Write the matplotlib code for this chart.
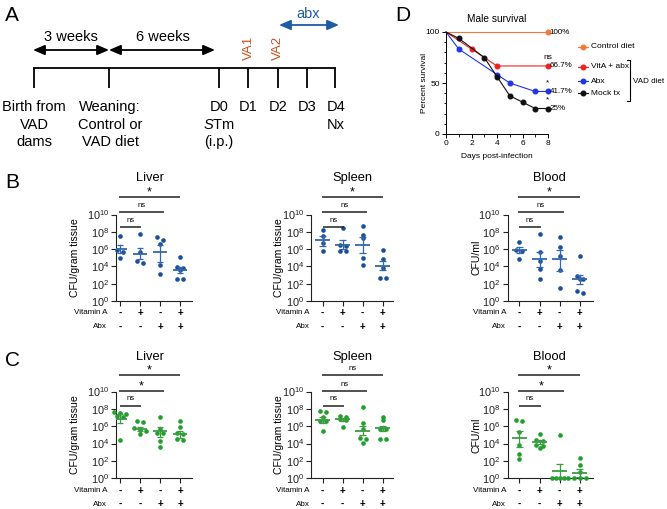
import numpy as np
import matplotlib
matplotlib.use("Agg")
import matplotlib.pyplot as plt
from matplotlib.transforms import blended_transform_factory
from matplotlib.patches import FancyArrowPatch
from matplotlib.ticker import NullLocator

plt.rcParams['font.family'] = ['Liberation Sans', 'DejaVu Sans']
plt.rcParams['mathtext.fontset'] = 'custom'
plt.rcParams['mathtext.rm'] = 'Liberation Sans'
plt.rcParams['mathtext.it'] = 'Liberation Sans:italic'
plt.rcParams['mathtext.bf'] = 'Liberation Sans:bold'
plt.rcParams['mathtext.sf'] = 'Liberation Sans'

# ---------------- data ----------------
# Panel D: survival (%)
control_days = [0, 8]
control_surv = [100, 100]
vita_days = [0, 2, 4, 8]
vita_surv = [100, 83.3, 66.7, 66.7]
abx_days = [0, 1, 4, 5, 7, 8]
abx_surv = [100, 83.3, 58.3, 50.0, 41.7, 41.7]
mock_days = [0, 1, 3, 4, 5, 6, 7, 8]
mock_surv = [100, 93.75, 75.0, 56.25, 37.5, 31.25, 25.0, 25.0]
surv_labels = ["100%", "66.7%", "41.7%", "25%"]
surv_sig = ["", "ns", "*", "*"]
legend_labels = ["Control diet", "VitA + abx", "Abx", "Mock tx"]

# Panels B / C: log10 CFU per mouse, groups: (-,-), (+,-), (-,+), (+,+)
vitamin_a_row = ["-", "+", "-", "+"]
abx_row = ["-", "-", "+", "+"]

b_liver = [[7.55, 5.9, 5.65, 4.95], [7.8, 5.7, 4.6, 4.45],
           [7.35, 7.1, 6.6, 4.15, 3.1], [5.1, 3.9, 3.8, 3.55, 2.6, 2.6]]
b_liver_mean = [6.0, 5.45, 5.7, 3.55]
b_liver_err = [(5.5, 6.5), (4.8, 6.1), (4.5, 6.45), (3.2, 3.92)]

b_spleen = [[8.2, 7.5, 6.65, 5.8], [8.45, 6.45, 6.4, 5.8, 5.75],
            [8.65, 7.65, 7.3, 4.95, 4.15], [5.95, 4.9, 3.85, 2.7, 2.7]]
b_spleen_mean = [7.0, 6.5, 6.45, 4.1]
b_spleen_err = [(6.35, 7.55), (6.0, 7.0), (5.6, 7.35), (3.6, 4.6)]

b_blood = [[6.8, 5.9, 5.8, 4.8], [7.7, 5.7, 4.65, 3.75, 2.55],
           [7.4, 6.25, 5.2, 3.6, 1.55], [5.15, 2.85, 2.6, 2.55, 1.2, 0.9]]
b_blood_mean = [5.9, 4.8, 4.8, 2.55]
b_blood_err = [(5.5, 6.25), (3.95, 5.7), (3.45, 5.85), (2.0, 3.0)]

c_liver = [[7.6, 7.55, 7.45, 7.15, 7.1, 4.4], [6.55, 6.45, 5.75, 5.55, 5.5, 5.1],
           [7.1, 5.65, 5.25, 5.2, 4.25, 3.65], [6.65, 5.95, 5.2, 5.15, 4.5, 4.45]]
c_liver_mean = [6.85, 5.7, 5.4, 5.1]
c_liver_err = [(6.35, 7.4), (5.42, 5.96), (4.75, 5.95), (4.6, 5.5)]

c_spleen = [[7.75, 7.6, 7.1, 6.65, 6.55, 5.4], [7.2, 7.1, 6.8, 6.7, 5.95],
            [8.25, 6.35, 5.65, 4.6, 4.55, 4.05], [7.1, 6.75, 5.7, 5.65, 4.55, 4.55]]
c_spleen_mean = [6.75, 6.8, 5.5, 5.75]
c_spleen_err = [(6.35, 7.1), (6.65, 6.95), (5.0, 6.05), (5.4, 6.05)]

c_blood = [[6.75, 6.6, 5.35, 3.8, 2.8, 2.2], [5.1, 4.4, 4.35, 3.85, 3.75, 3.45],
           [4.95, 0, 0, 0, 0, 0], [2.3, 1.5, 0.7, 0, 0, 0]]
c_blood_mean = [4.6, 4.2, 0.85, 0.65]
c_blood_err = [(3.65, 5.45), (3.95, 4.4), (0.0, 1.65), (0.2, 1.05)]

b_sig = {"Liver": ["*", "ns", "ns"], "Spleen": ["*", "ns", "ns"], "Blood": ["*", "ns", "ns"]}
c_sig = {"Liver": ["*", "*", "ns"], "Spleen": ["ns", "ns", "ns"], "Blood": ["*", "*", "ns"]}

# ---------------- figure ----------------
W, H = 667, 509
fig = plt.figure(figsize=(W / 100, H / 100), dpi=100)


def px_axes(l, t, r, b):
    return fig.add_axes([l / W, 1 - b / H, (r - l) / W, (b - t) / H])


ov = fig.add_axes([0, 0, 1, 1])
ov.set_xlim(0, W)
ov.set_ylim(H, 0)
ov.axis('off')
ov.patch.set_alpha(0)
ov.set_zorder(10)

# ---------------- Panel A ----------------
ov.text(12, 15, "A", fontsize=15, ha='center', va='center')
ov.plot([33, 336], [68, 68], color='k', lw=1.3, solid_capstyle='butt')
for x in [33.6, 109, 219, 248, 278, 307, 335.4]:
    ov.plot([x, x], [68, 88], color='k', lw=1.3, solid_capstyle='butt')

for (x0, x1, y, col) in [(33, 109, 50, 'k'), (109, 215, 50, 'k'), (279, 339, 25, '#1f5aa6')]:
    ov.add_patch(FancyArrowPatch((x0, y), (x1, y), arrowstyle='<|-|>,head_length=0.7,head_width=0.3',
                                 mutation_scale=10, lw=1.3, color=col, shrinkA=0, shrinkB=0,
                                 transform=ov.transData))
ov.text(71, 37, "3 weeks", fontsize=10.5, ha='center', va='center')
ov.text(163, 37, "6 weeks", fontsize=10.5, ha='center', va='center')
ov.text(308, 14, "abx", fontsize=10.5, ha='center', va='center', color='#1f5aa6')
ov.text(249, 47.5, "VA1", fontsize=9.5, ha='center', va='center', rotation=90, color='#c8501e')
ov.text(278, 47.5, "VA2", fontsize=9.5, ha='center', va='center', rotation=90, color='#c8501e')

tl_fs = 10.5
for x, lines in [(34, ["Birth from", "VAD", "dams"]), (110, ["Weaning:", "Control or", "VAD diet"]),
                 (219, ["D0", r"$\mathit{S}$Tm", "(i.p.)"]), (248, ["D1"]), (278, ["D2"]),
                 (307, ["D3"]), (336, ["D4", "Nx"])]:
    for i, s in enumerate(lines):
        ov.text(x, 107 + i * 17.5, s, fontsize=tl_fs, ha='center', va='center')

# ---------------- Panel D ----------------
ov.text(403, 15, "D", fontsize=15, ha='center', va='center')
axD = px_axes(446, 32, 548, 134)
axD.set_xlim(0, 8)
axD.set_ylim(0, 100)
for s in ['top', 'right']:
    axD.spines[s].set_visible(False)
for s in ['left', 'bottom']:
    axD.spines[s].set_linewidth(0.7)
axD.set_xticks([0, 2, 4, 6, 8])
axD.set_xticks([1, 3, 5, 7], minor=True)
axD.set_yticks([0, 50, 100])
axD.set_yticks(np.arange(0, 101, 10), minor=True)
axD.tick_params(labelsize=6, length=3, width=0.7, pad=1.5)
axD.tick_params(which='minor', length=1.8, width=0.6)

d_colors = ['#f47a3b', '#ee2222', '#2233ee', '#111111']
series = [(control_days, control_surv), (vita_days, vita_surv), (abx_days, abx_surv), (mock_days, mock_surv)]
for (dd, ss), col in zip(series, d_colors):
    axD.plot(dd, ss, color=col, lw=0.8, marker='o', ms=3.3, markevery=slice(1, None), clip_on=False)
for (dd, ss), lab, sig in zip(series, surv_labels, surv_sig):
    axD.annotate(lab, (dd[-1], ss[-1]), xytext=(1.2, 0), textcoords='offset points',
                 fontsize=5.8, va='center', ha='left')
    if sig:
        axD.annotate(sig, (dd[-1], ss[-1]), xytext=(0, 3.5), textcoords='offset points',
                     fontsize=6, va='bottom', ha='center')
ov.text(497, 19, "Male survival", fontsize=7.3, ha='center', va='center')
ov.text(424, 83, "Percent survival", fontsize=6, ha='center', va='center', rotation=90)
ov.text(497, 156, "Days post-infection", fontsize=6, ha='center', va='center')
for lab, col, y in zip(legend_labels, d_colors, [46.7, 66.7, 81, 93.3]):
    ov.plot([578, 588], [y, y], color=col, lw=0.8)
    ov.plot([583], [y], 'o', color=col, ms=3.3)
    ov.text(591, y, lab, fontsize=6, ha='left', va='center')
ov.plot([627, 630, 630, 627], [60, 60, 101, 101], color='k', lw=0.8)
ov.text(633, 81.7, "VAD diet", fontsize=5.8, ha='left', va='center')

# ---------------- Panels B / C ----------------
ov.text(12, 183, "B", fontsize=15, ha='center', va='center')
ov.text(12, 360, "C", fontsize=15, ha='center', va='center')

cols = {"Liver": dict(spine=116, cat0=120, step=20, right=192, ylab="CFU/gram tissue", ylx=75),
        "Spleen": dict(spine=311, cat0=322.7, step=20, right=393, ylab="CFU/gram tissue", ylx=278.5),
        "Blood": dict(spine=507.5, cat0=519.3, step=20.2, right=593, ylab="CFU/ml", ylx=476.5)}
rows = [dict(top=214.5, bottom=301, sig_y=[197, 212, 227], title_y=178, table_y=[313, 327],
             data={"Liver": (b_liver, b_liver_mean, b_liver_err), "Spleen": (b_spleen, b_spleen_mean, b_spleen_err),
                   "Blood": (b_blood, b_blood_mean, b_blood_err)}, sig=b_sig,
             dot='#1b4f9a', bar='#3467ad'),
        dict(top=391.5, bottom=478.3, sig_y=[374.5, 390.5, 405.5], title_y=357, table_y=[491, 504],
             data={"Liver": (c_liver, c_liver_mean, c_liver_err), "Spleen": (c_spleen, c_spleen_mean, c_spleen_err),
                   "Blood": (c_blood, c_blood_mean, c_blood_err)}, sig=c_sig,
             dot='#20a02a', bar='#3f9a47')]
sig_spans = [(-0.05, 3.0), (-0.05, 2.2), (0.0, 1.05)]


def spread(vals, thresh=0.3, step=0.3, maxspan=0.8):
    vals = np.asarray(vals, float)
    order = np.argsort(-vals, kind='stable')
    off = np.zeros(len(vals))
    groups = []
    for i in order:
        if groups and abs(vals[groups[-1][0]] - vals[i]) < thresh:
            groups[-1].append(i)
        else:
            groups.append([i])
    for g in groups:
        n = len(g)
        if n > 1:
            s = min(step, maxspan / (n - 1))
            for k, i in enumerate(g):
                off[i] = (k - (n - 1) / 2) * s
    return off


for row in rows:
    for name, geo in cols.items():
        xmin = -(geo['cat0'] - geo['spine']) / geo['step']
        xmax = (geo['right'] - geo['cat0']) / geo['step']
        ax = px_axes(geo['spine'], row['top'], geo['right'], row['bottom'])
        ax.set_yscale('log')
        ax.set_ylim(1, 1e10)
        ax.set_xlim(xmin, xmax)
        for s in ['top', 'right']:
            ax.spines[s].set_visible(False)
        for s in ['left', 'bottom']:
            ax.spines[s].set_linewidth(0.8)
            ax.spines[s].set_color('#222222')
        ax.set_yticks([10.0 ** k for k in range(0, 11, 2)])
        ax.set_yticklabels([rf'$10^{{{k}}}$' for k in range(0, 11, 2)])
        ax.yaxis.set_minor_locator(NullLocator())
        ax.set_xticks(range(4))
        ax.set_xticklabels([])
        ax.tick_params(labelsize=7.9, length=3.5, width=0.8, pad=1.5, colors='#222222')

        vals, means, errs = row['data'][name]
        for c, (v, m, (lo, hi)) in enumerate(zip(vals, means, errs)):
            off = spread(v)
            ax.scatter(c + off, 10.0 ** np.asarray(v), s=11, color=row['dot'], zorder=3,
                       clip_on=False, linewidths=0)
            ax.plot([c - 0.37, c + 0.37], [10 ** m, 10 ** m], color=row['bar'], lw=1.3, zorder=4,
                    solid_capstyle='butt')
            ax.plot([c, c], [10 ** lo, 10 ** hi], color=row['bar'], lw=0.9, zorder=4)
            for e in (lo, hi):
                ax.plot([c - 0.17, c + 0.17], [10 ** e, 10 ** e], color=row['bar'], lw=0.9, zorder=4,
                        solid_capstyle='butt', clip_on=False)

        bt = blended_transform_factory(ax.transData, ov.transData)
        for (x0, x1), y, lab in zip(sig_spans, row['sig_y'], row['sig'][name]):
            ov.plot([x0, x1], [y, y], color='#222222', lw=1.1, transform=bt, clip_on=False,
                    solid_capstyle='butt')
            if lab == '*':
                ov.text((x0 + x1) / 2, y - 4.5, lab, transform=bt, fontsize=9, ha='center', va='center')
            else:
                ov.text((x0 + x1) / 2, y - 6.5, lab, transform=bt, fontsize=5.5, ha='center', va='center')
        ov.text(1.5, row['title_y'], name, transform=bt, fontsize=9.3, ha='center', va='center')
        for y, labs, rl in zip(row['table_y'], [vitamin_a_row, abx_row], ["Vitamin A", "Abx"]):
            for c, s in enumerate(labs):
                ov.text(c, y, s, transform=bt, fontsize=7, ha='center', va='center', fontweight='bold')
            ov.text(geo['cat0'] - 13, y, rl, fontsize=5.8, ha='right', va='center')
        ov.text(geo['ylx'], (row['top'] + row['bottom']) / 2, geo['ylab'], fontsize=7.6,
                ha='center', va='center', rotation=90)

fig.savefig("out.png", dpi=100)
